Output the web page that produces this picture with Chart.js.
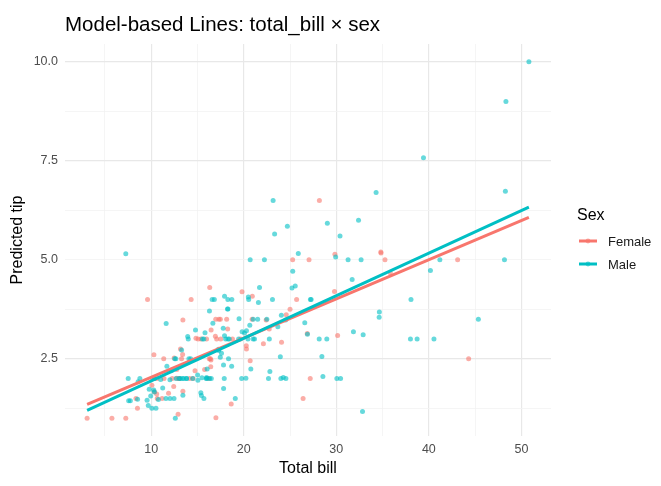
<!DOCTYPE html>
<html>
<head>
<meta charset="utf-8">
<script src="https://cdn.jsdelivr.net/npm/chart.js@4.4.1/dist/chart.umd.min.js"></script>
<style>
  html, body { margin: 0; padding: 0; background: #ffffff; }
  #wrap { width: 661px; height: 486px; }
</style>
</head>
<body>
<div id="wrap"><canvas id="chart"></canvas></div>
<script>
// tips data, split by sex
const femaleBill = [16.99, 24.59, 35.26, 14.83, 10.33, 16.97, 20.29, 15.77, 19.65, 15.06, 20.69, 16.93, 10.29, 34.81, 26.41, 16.45, 3.07, 17.07, 26.86, 25.28, 14.73, 10.07, 34.83, 5.75, 16.32, 22.75, 11.35, 15.38, 44.3, 22.42, 20.92, 14.31, 7.25, 25.71, 17.31, 10.65, 12.43, 24.08, 13.42, 12.48, 29.8, 14.52, 11.38, 20.27, 11.17, 12.26, 18.26, 8.51, 10.33, 14.15, 13.16, 17.47, 27.05, 16.43, 8.35, 18.64, 11.87, 29.85, 25.0, 13.39, 16.21, 17.51, 10.59, 10.63, 9.6, 20.9, 18.15, 19.81, 43.11, 13.0, 12.74, 13.0, 16.4, 16.47, 12.76, 13.27, 28.17, 12.9, 30.14, 13.42, 15.98, 16.27, 10.09, 22.12, 35.83, 27.18, 18.78];
const femaleTip = [1.01, 3.61, 5.0, 3.02, 1.67, 3.5, 2.75, 2.23, 3.0, 3.0, 2.45, 3.07, 2.6, 5.2, 1.5, 2.47, 1.0, 3.0, 3.14, 5.0, 2.2, 1.83, 5.17, 1.0, 4.3, 3.25, 2.5, 3.0, 2.5, 3.48, 4.08, 4.0, 1.0, 4.0, 3.5, 1.5, 1.8, 2.92, 1.68, 2.52, 4.2, 2.0, 2.0, 2.83, 1.5, 2.0, 3.25, 1.25, 2.0, 2.0, 2.75, 3.5, 5.0, 2.3, 1.5, 1.36, 1.63, 5.14, 3.75, 2.61, 2.0, 3.0, 1.61, 2.0, 4.0, 3.5, 3.5, 4.19, 5.0, 2.0, 2.01, 2.0, 2.5, 3.23, 2.23, 2.5, 6.5, 1.1, 3.09, 3.48, 3.0, 2.5, 2.0, 2.88, 4.67, 2.0, 3.0];

const maleBill = [10.34, 21.01, 23.68, 25.29, 8.77, 26.88, 15.04, 14.78, 10.27, 15.42, 18.43, 21.58, 16.29, 20.65, 17.92, 39.42, 19.82, 17.81, 13.37, 12.69, 21.7, 9.55, 18.35, 17.78, 24.06, 16.31, 18.69, 31.27, 16.04, 17.46, 13.94, 9.68, 30.4, 18.29, 22.23, 32.4, 28.55, 18.04, 12.54, 9.94, 25.56, 19.49, 38.01, 11.24, 48.27, 20.29, 13.81, 11.02, 18.29, 17.59, 20.08, 20.23, 15.01, 12.02, 10.51, 17.92, 27.2, 22.76, 17.29, 19.44, 16.66, 32.68, 15.98, 13.03, 18.28, 24.71, 21.16, 28.97, 22.49, 40.17, 27.28, 12.03, 21.01, 12.46, 15.36, 20.49, 25.21, 18.24, 14.0, 38.07, 23.95, 29.93, 11.69, 14.26, 15.95, 8.52, 22.82, 19.08, 16.0, 34.3, 41.19, 9.78, 7.51, 14.07, 13.13, 17.26, 24.55, 19.77, 48.17, 16.49, 21.5, 12.66, 13.81, 24.52, 20.76, 31.71, 50.81, 15.81, 7.25, 31.85, 16.82, 32.9, 17.89, 14.48, 34.63, 34.65, 23.33, 45.35, 23.17, 40.55, 20.69, 30.46, 23.1, 15.69, 28.44, 15.48, 16.58, 7.56, 10.34, 13.51, 18.71, 20.53, 26.59, 38.73, 24.27, 30.06, 25.89, 48.33, 28.15, 11.59, 7.74, 12.16, 8.58, 13.42, 20.45, 13.28, 24.01, 15.69, 11.61, 10.77, 15.53, 10.07, 12.6, 32.83, 29.03, 22.67, 17.82];
const maleTip = [1.66, 3.5, 3.31, 4.71, 2.0, 3.12, 1.96, 3.23, 1.71, 1.57, 3.0, 3.92, 3.71, 3.35, 4.08, 7.58, 3.18, 2.34, 2.0, 2.0, 4.3, 1.45, 2.5, 3.27, 3.6, 2.0, 2.31, 5.0, 2.24, 2.54, 3.06, 1.32, 5.6, 3.0, 5.0, 6.0, 2.05, 3.0, 2.5, 1.56, 4.34, 3.51, 3.0, 1.76, 6.73, 3.21, 2.0, 1.98, 3.76, 2.64, 3.15, 2.01, 2.09, 1.97, 1.25, 3.08, 4.0, 3.0, 2.71, 3.0, 3.4, 5.0, 2.03, 2.0, 4.0, 5.85, 3.0, 3.0, 3.5, 4.73, 4.0, 1.5, 3.0, 1.5, 1.64, 4.06, 4.29, 3.76, 3.0, 4.0, 2.55, 5.07, 2.31, 2.5, 2.0, 1.48, 2.18, 1.5, 2.0, 6.7, 5.0, 1.73, 2.0, 2.5, 2.0, 2.74, 2.0, 2.0, 5.0, 2.0, 3.5, 2.5, 2.0, 3.48, 2.24, 4.5, 10.0, 3.16, 5.15, 3.18, 4.0, 3.11, 2.0, 2.0, 3.55, 3.68, 5.65, 3.5, 6.5, 3.0, 5.0, 2.0, 4.0, 1.5, 2.56, 2.02, 4.0, 1.44, 2.0, 2.0, 4.0, 4.0, 3.41, 3.0, 2.03, 2.0, 5.16, 9.0, 3.0, 1.5, 1.44, 2.2, 1.92, 1.58, 3.0, 2.72, 2.0, 3.0, 3.39, 1.47, 3.0, 1.25, 1.0, 1.17, 5.92, 2.0, 1.75];

// model fit lines (ends)
const fitBill = [3.07, 50.81];
const femaleFit = [1.35, 6.07];
const maleFit = [1.20, 6.33];

const xTicks = [10, 20, 30, 40, 50];
const xMinor = [5, 15, 25, 35, 45];
const yTicks = [2.5, 5.0, 7.5, 10.0];
const yMinor = [1.25, 3.75, 6.25, 8.75];

const seriesNames = ["Female", "Male"];
const seriesColors = ["#F8766D", "#00BFC4"];

const FONT = "'Liberation Sans', Arial, sans-serif";

function pairs(xs, ys) {
    return xs.map((x, i) => ({ x: x, y: ys[i] }));
}

function withMinor(major, minor) {
    return major.concat(minor).sort((a, b) => a - b).map(v => ({ value: v }));
}

const pointFill = ["rgba(248,118,109,0.6)", "rgba(0,191,196,0.6)"];

const overlay = {
    id: "overlay",
    afterDraw(chart) {
        const ctx = chart.ctx;
        const area = chart.chartArea;
        ctx.save();
        // title
        ctx.fillStyle = "#000000";
        ctx.font = "20.5px " + FONT;
        ctx.textAlign = "left";
        ctx.textBaseline = "alphabetic";
        ctx.fillText("Model-based Lines: total_bill \u00d7 sex", area.left, 31);

        // legend
        ctx.font = "16px " + FONT;
        ctx.fillText("Sex", 577, 220);
        ctx.font = "13px " + FONT;
        ctx.textBaseline = "middle";
        const rows = [241, 264];
        seriesNames.forEach((name, i) => {
            const y = rows[i];
            ctx.strokeStyle = seriesColors[i];
            ctx.lineWidth = 3;
            ctx.beginPath();
            ctx.moveTo(579, y);
            ctx.lineTo(597, y);
            ctx.stroke();
            ctx.fillStyle = pointFill[i];
            ctx.beginPath();
            ctx.arc(588, y, 2.4, 0, Math.PI * 2);
            ctx.fill();
            ctx.fillStyle = "#1a1a1a";
            ctx.fillText(name, 608, y + 1);
        });
        ctx.restore();
    }
};

const gridColor = ctx => {
    const v = ctx.tick && ctx.tick.value;
    return (xMinor.includes(v) || yMinor.includes(v)) ? "#f3f3f3" : "#e8e8e8";
};
const gridWidth = ctx => {
    const v = ctx.tick && ctx.tick.value;
    return (xMinor.includes(v) || yMinor.includes(v)) ? 0.8 : 1.2;
};

new Chart(document.getElementById("chart"), {
    type: "scatter",

    data: {
        datasets: [
            {
                label: "Female points",
                data: pairs(femaleBill, femaleTip),
                backgroundColor: pointFill[0],
                borderWidth: 0,
                pointRadius: 2.5,
                order: 4
            },
            {
                label: "Male points",
                data: pairs(maleBill, maleTip),
                backgroundColor: pointFill[1],
                borderWidth: 0,
                pointRadius: 2.5,
                order: 3
            },
            {
                label: "Female",
                data: pairs(fitBill, femaleFit),
                showLine: true,
                borderColor: seriesColors[0],
                borderWidth: 3,
                pointRadius: 0,
                order: 2
            },
            {
                label: "Male",
                data: pairs(fitBill, maleFit),
                showLine: true,
                borderColor: seriesColors[1],
                borderWidth: 3,
                pointRadius: 0,
                order: 1
            }
        ]
    },

    options: {
        responsive: true,
        maintainAspectRatio: false,
        animation: false,
        layout: {
            padding: { top: 44, right: 110, bottom: 8, left: 8 }
        },
        plugins: {
            legend: { display: false },
            title: { display: false },
            tooltip: { enabled: false }
        },
        scales: {
            x: {
                type: "linear",
                min: 0.68,
                max: 53.2,
                afterBuildTicks: s => { s.ticks = withMinor(xTicks, xMinor); },
                afterFit: s => { s.height = 42; },
                border: { display: false },
                grid: { color: gridColor, lineWidth: gridWidth, drawTicks: false },
                ticks: {
                    padding: 6,
                    color: "#4d4d4d",
                    font: { family: FONT, size: 12.5 },
                    callback: v => xTicks.includes(v) ? String(v) : ""
                },
                title: {
                    display: true,
                    text: "Total bill",
                    color: "#000000",
                    padding: { top: 0, bottom: 0 },
                    font: { family: FONT, size: 16 }
                }
            },
            y: {
                type: "linear",
                min: 0.55,
                max: 10.45,
                afterBuildTicks: s => { s.ticks = withMinor(yTicks, yMinor); },
                afterFit: s => { s.width = 57; },
                border: { display: false },
                grid: { color: gridColor, lineWidth: gridWidth, drawTicks: false },
                ticks: {
                    padding: 7,
                    color: "#4d4d4d",
                    font: { family: FONT, size: 12.5 },
                    callback: v => yTicks.includes(v) ? v.toFixed(1) : ""
                },
                title: {
                    display: true,
                    text: "Predicted tip",
                    color: "#000000",
                    padding: { top: 0, bottom: 0 },
                    font: { family: FONT, size: 16 }
                }
            }
        }
    },

    plugins: [overlay]
});
</script>
</body>
</html>
